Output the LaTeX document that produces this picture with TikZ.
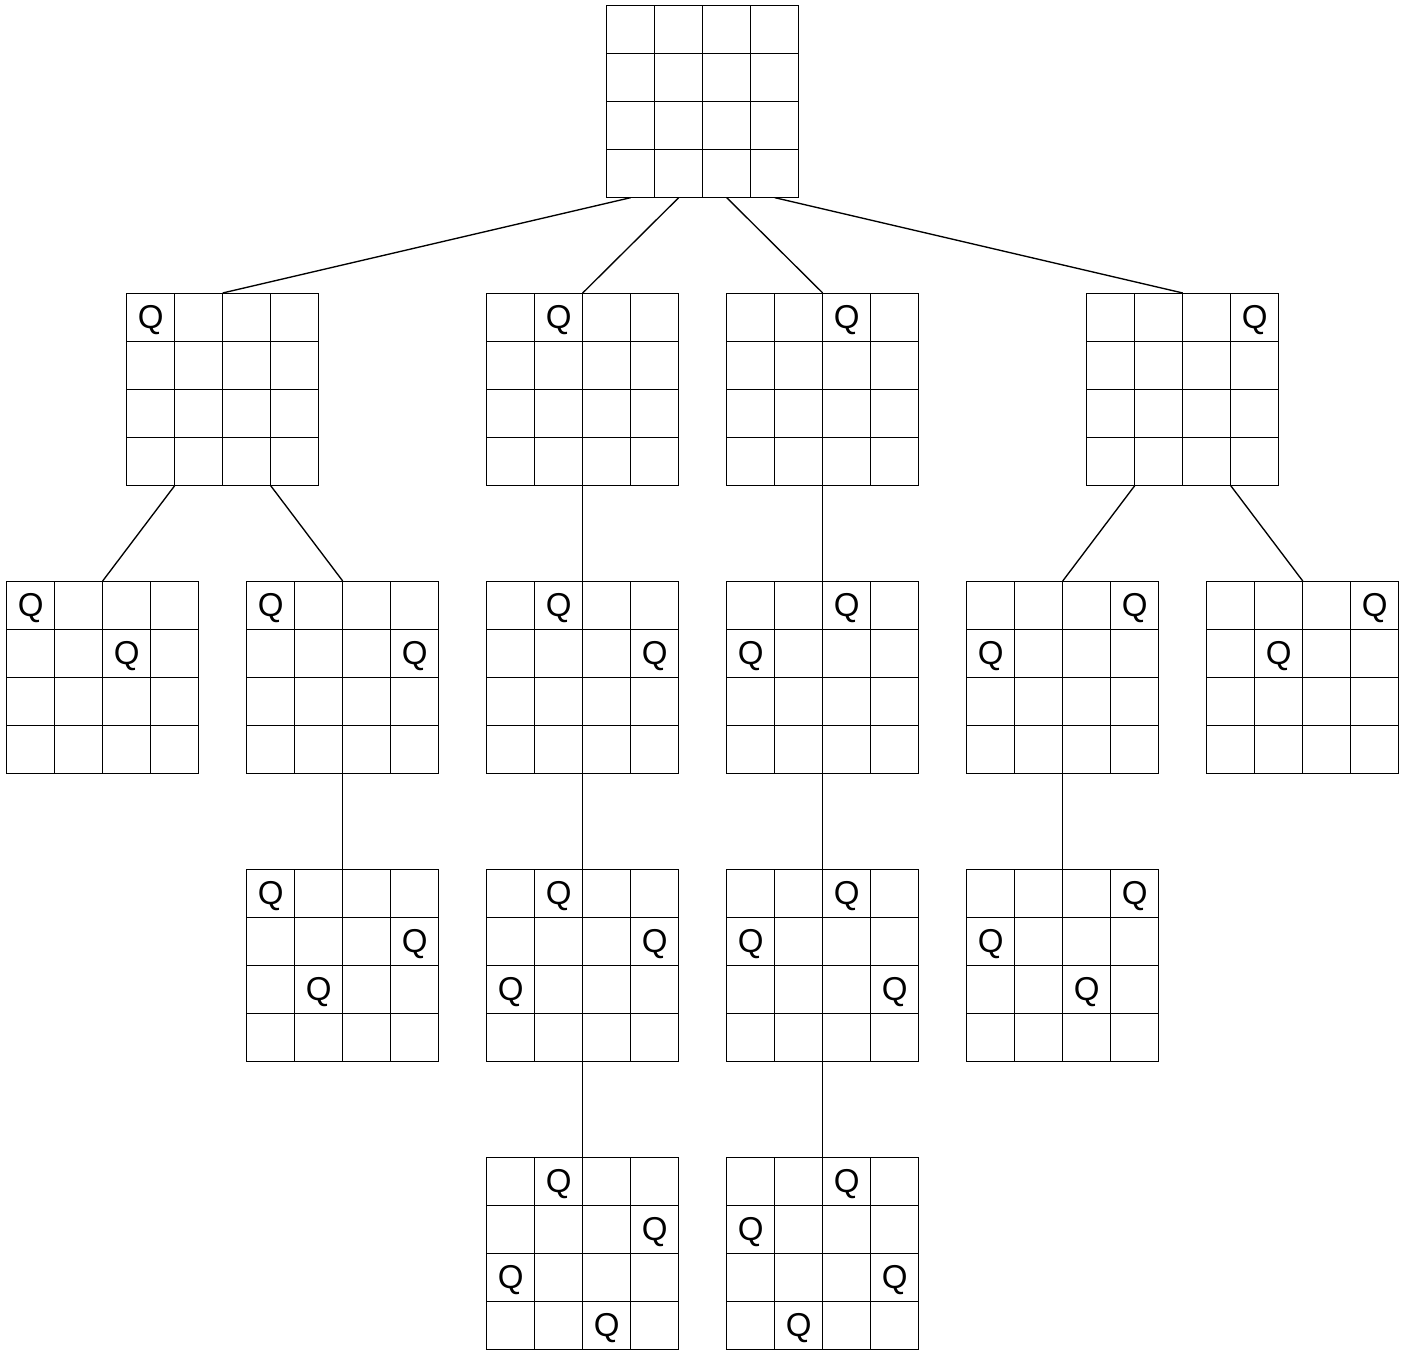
\documentclass[tikz,border=0pt]{standalone}
\usepackage{fontspec}
\setmainfont{Liberation Sans}
\usetikzlibrary{matrix,positioning,calc}

\begin{document}
\begin{tikzpicture}[
          board/.style={matrix of nodes, nodes in empty cells,
                        inner sep=0pt, outer sep=0pt,
                        column sep=-\pgflinewidth, row sep=-\pgflinewidth,
                        nodes={draw, minimum size=0.5cm, inner sep=0pt,
                               outer sep=0pt, anchor=center,
                               text height=6.6pt, text depth=0pt,
                               font=\fontsize{9.8}{11}\selectfont}},
          link/.style={line width=0.4pt},
          node distance=0.986cm
        ]
          \useasboundingbox (-0.0625,6.052) rectangle (14.604,-8.0105);
          % second level: two queens placed
          \matrix[board, anchor=north west] (b1) at (0,0) {
            Q & & & \\ & & Q & \\ & & & \\ & & & \\ };
          \matrix[board, right=0.486cm of b1] (b2) {
            Q & & & \\ & & & Q \\ & & & \\ & & & \\ };
          \matrix[board, right=0.486cm of b2] (b3) {
            & Q & & \\ & & & Q \\ & & & \\ & & & \\ };
          \matrix[board, right=0.486cm of b3] (b4) {
            & & Q & \\ Q & & & \\ & & & \\ & & & \\ };
          \matrix[board, right=0.486cm of b4] (b5) {
            & & & Q \\ Q & & & \\ & & & \\ & & & \\ };
          \matrix[board, right=0.486cm of b5] (b6) {
            & & & Q \\ & Q & & \\ & & & \\ & & & \\ };
          % first level: one queen in the top row
          \matrix[board, anchor=south, yshift=0.986cm] (a1) at ($(b1.north)!0.5!(b2.north)$) {
            Q & & & \\ & & & \\ & & & \\ & & & \\ };
          \matrix[board, above=of b3] (a2) {
            & Q & & \\ & & & \\ & & & \\ & & & \\ };
          \matrix[board, above=of b4] (a3) {
            & & Q & \\ & & & \\ & & & \\ & & & \\ };
          \matrix[board, anchor=south, yshift=0.986cm] (a4) at ($(b5.north)!0.5!(b6.north)$) {
            & & & Q \\ & & & \\ & & & \\ & & & \\ };
          % empty board on top
          \matrix[board, anchor=south, yshift=0.986cm] (r) at ($(a2.north)!0.5!(a3.north)$) {
            & & & \\ & & & \\ & & & \\ & & & \\ };
          % third level
          \matrix[board, below=of b2] (c1) {
            Q & & & \\ & & & Q \\ & Q & & \\ & & & \\ };
          \matrix[board, below=of b3] (c2) {
            & Q & & \\ & & & Q \\ Q & & & \\ & & & \\ };
          \matrix[board, below=of b4] (c3) {
            & & Q & \\ Q & & & \\ & & & Q \\ & & & \\ };
          \matrix[board, below=of b5] (c4) {
            & & & Q \\ Q & & & \\ & & Q & \\ & & & \\ };
          % solutions
          \matrix[board, below=of c2] (d1) {
            & Q & & \\ & & & Q \\ Q & & & \\ & & Q & \\ };
          \matrix[board, below=of c3] (d2) {
            & & Q & \\ Q & & & \\ & & & Q \\ & Q & & \\ };
          % tree edges
          \draw[link] (r-4-1.south) -- (a1.north);
          \draw[link] (r-4-2.south) -- (a2.north);
          \draw[link] (r-4-3.south) -- (a3.north);
          \draw[link] (r-4-4.south) -- (a4.north);
          \draw[link] (a1-4-1.south east) -- (b1.north);
          \draw[link] (a1-4-3.south east) -- (b2.north);
          \draw[link] (a2.south) -- (b3.north);
          \draw[link] (a3.south) -- (b4.north);
          \draw[link] (a4-4-1.south east) -- (b5.north);
          \draw[link] (a4-4-3.south east) -- (b6.north);
          \draw[link] (b2.south) -- (c1.north);
          \draw[link] (b3.south) -- (c2.north);
          \draw[link] (b4.south) -- (c3.north);
          \draw[link] (b5.south) -- (c4.north);
          \draw[link] (c2.south) -- (d1.north);
          \draw[link] (c3.south) -- (d2.north);
        \end{tikzpicture}
\end{document}
